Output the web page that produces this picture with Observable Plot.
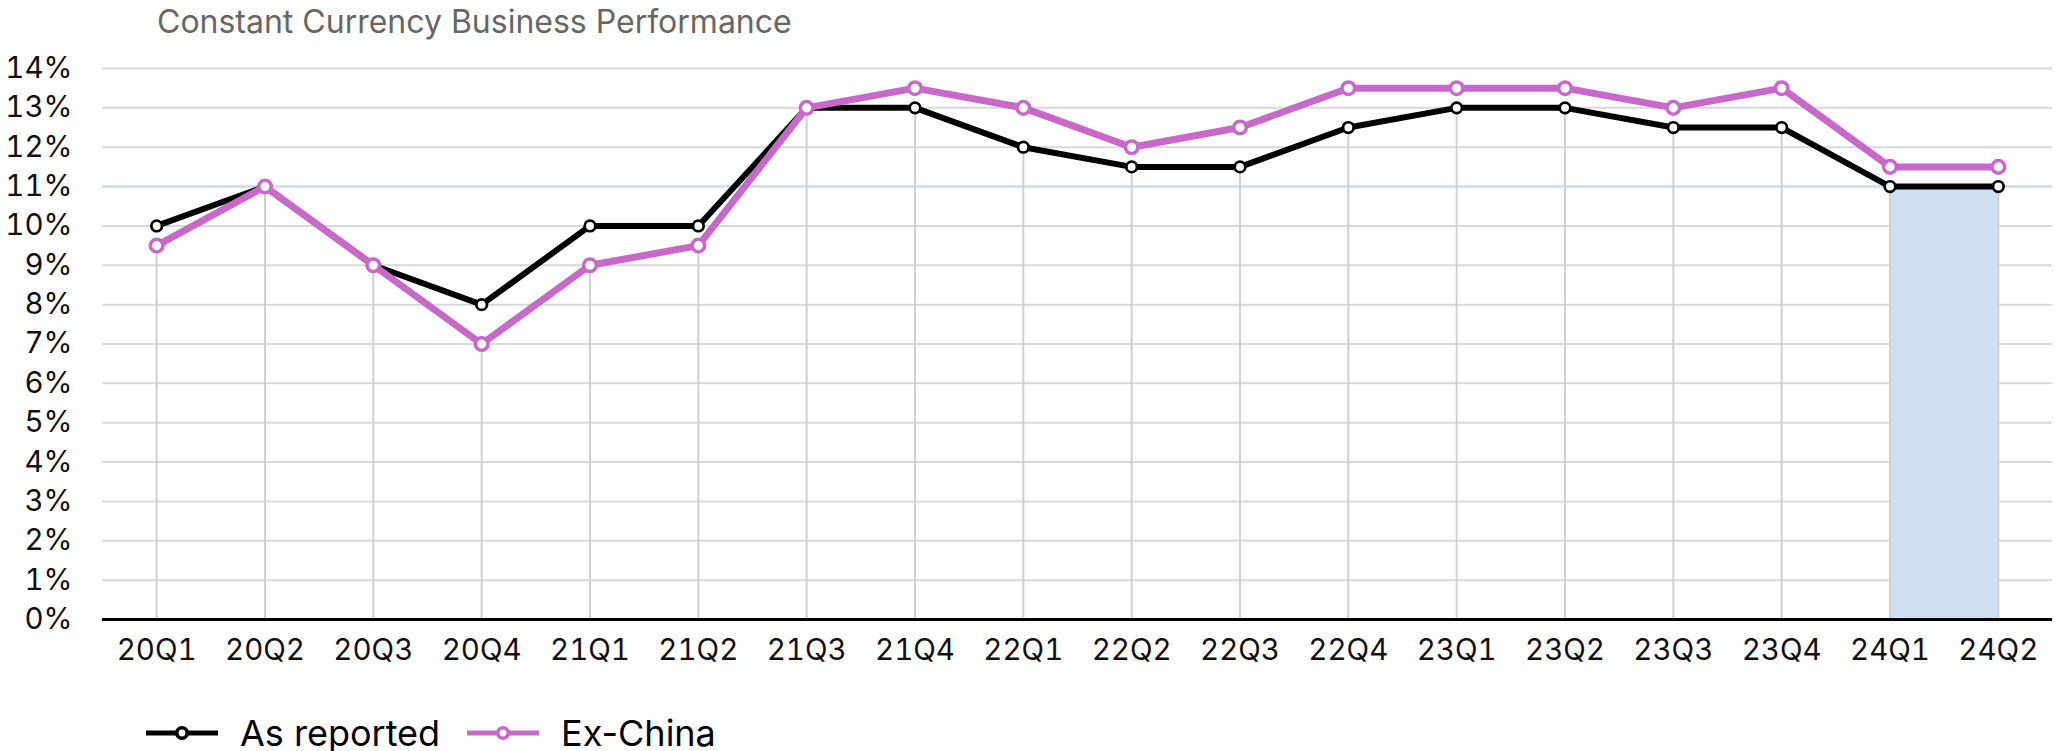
<!DOCTYPE html>
<html>
<head>
<meta charset="utf-8">
<script src="https://cdn.jsdelivr.net/npm/d3@7"></script>
<script src="https://cdn.jsdelivr.net/npm/@observablehq/plot@0.6"></script>
<style>
  html, body { margin: 0; padding: 0; background: #fff; }
  body { width: 2055px; height: 751px; overflow: hidden; font-family: Inter, "Noto Sans", sans-serif; }
  #title { height: 44px; line-height: 44px; font-size: 32px; color: #666; padding-left: 157px; white-space: nowrap; }
  #legend { position: absolute; left: 0; top: 711px; height: 44px; font-size: 36px; color: #000; }
  .item { display: flex; align-items: center; position: absolute; top: 0; height: 44px; white-space: nowrap; }
  .item svg { display: block; }
  .item span { margin-left: 22px; }
</style>
</head>
<body>
<div id="title">Constant Currency Business Performance</div>
<div id="chart"></div>
<div id="legend"></div>
<script>
const quarters = ["20Q1","20Q2","20Q3","20Q4","21Q1","21Q2","21Q3","21Q4","22Q1","22Q2","22Q3","22Q4","23Q1","23Q2","23Q3","23Q4","24Q1","24Q2"];
const asReported = [10, 11, 9, 8, 10, 10, 13, 13, 12, 11.5, 11.5, 12.5, 13, 13, 12.5, 12.5, 11, 11];
const exChina = [9.5, 11, 9, 7, 9, 9.5, 13, 13.5, 13, 12, 12.5, 13.5, 13.5, 13.5, 13, 13.5, 11.5, 11.5];
const yTicks = [0,1,2,3,4,5,6,7,8,9,10,11,12,13,14];
const highlightFrom = "24Q1";
const highlightTo = "24Q2";
const highlightLevel = 11;
const seriesNames = ["As reported", "Ex-China"];
const seriesColors = ["#000000", "#c869c9"];

const rows = quarters.map((q, i) => ({i, q, a: asReported[i], e: exChina[i], lo: Math.min(asReported[i], exChina[i])}));
const hl = [{x1: quarters.indexOf(highlightFrom), x2: quarters.indexOf(highlightTo), y1: 0, y2: highlightLevel}];

const chart = Plot.plot({
  width: 2055,
  height: 660,
  marginLeft: 102,
  marginRight: 3,
  marginTop: 24,
  marginBottom: 85,
  style: {fontFamily: "Inter, 'Noto Sans', sans-serif", fontSize: "29.5px", color: "#111", background: "#fff"},
  x: {type: "linear", domain: [-0.5, quarters.length - 0.5], ticks: quarters.map((q, i) => i), tickFormat: i => quarters[i], tickSize: 0, tickPadding: 20, label: null},
  y: {domain: [0, 14], ticks: yTicks, tickFormat: d => d + "%", tickSize: 0, tickPadding: 30, label: null},
  marks: [
    Plot.gridY(yTicks, {stroke: "#d9d9d9", strokeOpacity: 1, strokeWidth: 2}),
    Plot.rect(hl, {x1: "x1", x2: "x2", y1: "y1", y2: "y2", fill: "#cfdff2"}),
    Plot.ruleY([highlightLevel], {stroke: "#d3e1ef", strokeWidth: 3}),
    Plot.ruleX(rows, {x: "i", y1: 0, y2: "lo", stroke: "#d0d0d0", strokeWidth: 2}),
    Plot.ruleY([0], {stroke: "#000", strokeWidth: 3}),
    Plot.line(rows, {x: "i", y: "a", stroke: seriesColors[0], strokeWidth: 6}),
    Plot.dot(rows, {x: "i", y: "a", r: 5.3, fill: "#fff", stroke: seriesColors[0], strokeWidth: 2.7}),
    Plot.line(rows, {x: "i", y: "e", stroke: seriesColors[1], strokeWidth: 7}),
    Plot.dot(rows, {x: "i", y: "e", r: 6.3, fill: "#fff", stroke: seriesColors[1], strokeWidth: 3.5})
  ]
});
document.getElementById("chart").appendChild(chart);

const legend = document.getElementById("legend");
const lefts = [146, 467];
seriesNames.forEach((name, k) => {
  const item = document.createElement("div");
  item.className = "item";
  item.style.left = lefts[k] + "px";
  item.innerHTML = `<svg width="72" height="24" viewBox="0 0 72 24"><line x1="0" y1="12" x2="72" y2="12" stroke="${seriesColors[k]}" stroke-width="5"/><circle cx="36" cy="12" r="5.2" fill="#fff" stroke="${seriesColors[k]}" stroke-width="3.6"/></svg><span>${name}</span>`;
  legend.appendChild(item);
});
</script>
</body>
</html>
